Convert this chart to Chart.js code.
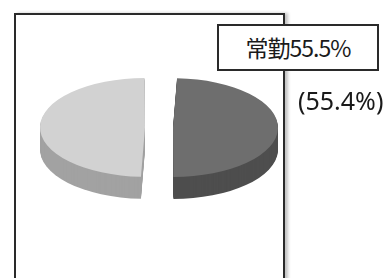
<!DOCTYPE html>
<html>
<head>
<meta charset="utf-8">
<script src="https://cdn.jsdelivr.net/npm/chart.js@4.4.1/dist/chart.umd.min.js"></script>
<style>
  body { margin: 0; background: #fff; }
  #wrap { position: relative; width: 390px; height: 278px; overflow: hidden; }
  #frame { position: absolute; left: 14px; top: 13px; width: 267px; height: 270px;
           border: 2px solid #2a2a2a; box-shadow: 3px 0 3px #c4c4c4; }
  #pie { position: absolute; left: 0; top: 0; }
  #label { position: absolute; left: 217px; top: 24px; width: 158px; height: 43px;
           border: 2px solid #2a2a2a; background: #fff;
           font: 23px "Noto Sans CJK JP", "Noto Sans", sans-serif; color: #1a1a1a;
           text-align: center; line-height: 43px; letter-spacing: -1px; }
  #prev { position: absolute; left: 298px; top: 83px;
          font: 25px "Noto Sans", "Noto Sans CJK JP", sans-serif; color: #1a1a1a; white-space: nowrap; }
</style>
</head>
<body>
<div id="wrap">
  <div id="frame"></div>
  <canvas id="pie" width="390" height="278"></canvas>
  <div id="label">常勤55.5%</div>
  <div id="prev">(55.4%)</div>
</div>
<script>
// slice sizes as drawn in the picture (the split runs almost straight through the centre)
const categories = ['常勤', 'その他'];
const shares = [50, 50];
const topColors = ['#6e6e6e', '#d2d2d2'];
const sideColors = ['#4e4e4e', '#a2a2a2'];

// tilt and thickness of the 3D look
const squash = 0.47;
const depth = 22;
const startRotation = 1;

const tiltPlugin = {
  id: 'tilt',
  beforeDatasetsDraw(chart) {
    const ctx = chart.ctx;
    const arcs = chart.getDatasetMeta(0).data;
    const cx = arcs[0].x;
    const cy = arcs[0].y;

    // side walls, layered from the bottom up.
    // same slice geometry as ArcElement.draw: moved by offset / 4, radius grown
    // by that amount and the ends trimmed a little
    for (let d = depth; d >= 1; d--) {
      arcs.forEach((arc, i) => {
        const span = arc.endAngle - arc.startAngle;
        const mid = (arc.startAngle + arc.endAngle) / 2;
        const off = (arc.options.offset || 0) / 4;
        const grow = off * (1 - Math.sin(Math.min(Math.PI, span)));
        const r = arc.outerRadius + grow;
        const beta = Math.max(0.001, span * r - grow / Math.PI) / r;
        const trim = (span - beta) / 2;
        const x = arc.x + Math.cos(mid) * off;
        const y = arc.y + Math.sin(mid) * off;
        ctx.save();
        ctx.translate(0, d);
        ctx.translate(cx, cy);
        ctx.scale(1, squash);
        ctx.translate(-cx, -cy);
        ctx.beginPath();
        ctx.arc(x, y, r, arc.startAngle + trim, arc.endAngle - trim);
        ctx.lineTo(x, y);
        ctx.closePath();
        ctx.fillStyle = sideColors[i];
        ctx.fill();
        ctx.restore();
      });
    }

    // the top faces are drawn by Chart.js in the squashed space
    ctx.save();
    ctx.translate(cx, cy);
    ctx.scale(1, squash);
    ctx.translate(-cx, -cy);
  },
  afterDatasetsDraw(chart) {
    chart.ctx.restore();
  }
};

new Chart(document.getElementById('pie'), {
  type: 'pie',
  data: {
    labels: categories,
    datasets: [{
      data: shares,
      backgroundColor: topColors,
      borderWidth: 0,
      offset: 56,
      clip: false
    }]
  },
  options: {
    responsive: false,
    animation: false,
    events: [],
    rotation: startRotation,
    radius: 91,
    layout: { padding: { left: 0, right: 72, top: 0, bottom: 23 } },
    plugins: {
      legend: { display: false },
      tooltip: { enabled: false }
    }
  },
  plugins: [tiltPlugin]
});
</script>
</body>
</html>
